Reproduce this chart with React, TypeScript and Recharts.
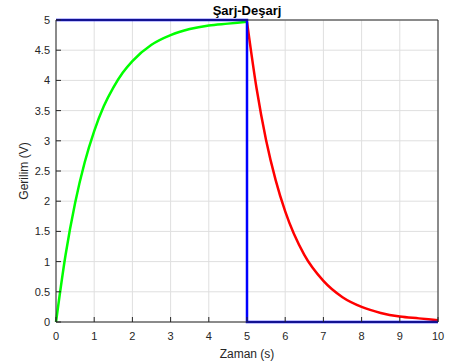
import { LineChart, Line, XAxis, YAxis, CartesianGrid } from 'recharts';

// charge curve (green)
const chargeTime = [0, 0.25, 0.5, 0.75, 1, 1.25, 1.5, 1.75, 2, 2.5, 3, 3.5, 4, 4.5, 5];
const chargeVolt = [0, 1.11, 1.97, 2.64, 3.16, 3.57, 3.88, 4.13, 4.32, 4.59, 4.75, 4.85, 4.91, 4.94, 4.97];

// discharge curve (red)
const dischargeTime = [5, 5.25, 5.5, 5.75, 6, 6.5, 7, 7.5, 8, 8.5, 9, 9.5, 10];
const dischargeVolt = [4.97, 3.87, 3.01, 2.35, 1.83, 1.11, 0.68, 0.41, 0.25, 0.15, 0.09, 0.06, 0.03];

// source voltage (blue)
const sourceTime = [0, 5, 5, 10];
const sourceVolt = [5, 5, 0, 0];

const xTicks = [0, 1, 2, 3, 4, 5, 6, 7, 8, 9, 10];
const yTicks = [0, 0.5, 1, 1.5, 2, 2.5, 3, 3.5, 4, 4.5, 5];

const charge = chargeTime.map((t, i) => ({ t, v: chargeVolt[i] }));
const discharge = dischargeTime.map((t, i) => ({ t, v: dischargeVolt[i] }));
const source = sourceTime.map((t, i) => ({ t, v: sourceVolt[i] }));

const FONT = '"Liberation Sans", Arial, Helvetica, sans-serif';
const AXIS = '#262626';
const tickStyle = { fontSize: 11, fill: AXIS, fontFamily: FONT };

export default function App() {
  return (
    <div style={{ position: 'absolute', left: 0, top: 0, background: '#fff' }}>
      <LineChart width={456} height={363} margin={{ top: 19, right: 17, bottom: 0, left: 0 }}>
        <CartesianGrid stroke="#dfdfdf" strokeWidth={1} />
        <XAxis
          dataKey="t"
          type="number"
          domain={[0, 10]}
          ticks={xTicks}
          allowDuplicatedCategory={false}
          height={41}
          stroke={AXIS}
          tick={tickStyle}
          tickSize={-5}
          tickMargin={15}
          label={{ value: 'Zaman (s)', position: 'insideBottom', offset: 5, style: { fontSize: 12, fill: AXIS, fontFamily: FONT } }}
        />
        <XAxis
          xAxisId="top"
          orientation="top"
          dataKey="t"
          type="number"
          domain={[0, 10]}
          ticks={xTicks}
          height={1}
          stroke={AXIS}
          tickSize={-5}
          tickFormatter={() => ''}
          label={{ value: 'Şarj-Deşarj', position: 'top', offset: 4, style: { fontSize: 13, fontWeight: 'bold', fill: '#000', fontFamily: FONT } }}
        />
        <YAxis
          type="number"
          domain={[0, 5]}
          ticks={yTicks}
          width={56}
          stroke={AXIS}
          tick={tickStyle}
          tickSize={-5}
          tickMargin={11}
          label={{ value: 'Gerilim (V)', angle: -90, position: 'insideLeft', offset: 24, style: { textAnchor: 'middle', fontSize: 12, fill: AXIS, fontFamily: FONT } }}
        />
        <YAxis
          yAxisId="right"
          orientation="right"
          type="number"
          domain={[0, 5]}
          ticks={yTicks}
          width={1}
          stroke={AXIS}
          tickSize={-5}
          tickFormatter={() => ''}
        />
        <Line data={charge} dataKey="v" type="monotone" stroke="#00ff00" strokeWidth={2.5} dot={false} isAnimationActive={false} />
        <Line data={discharge} dataKey="v" type="monotone" stroke="#ff0000" strokeWidth={2.5} dot={false} isAnimationActive={false} />
        <Line data={source} dataKey="v" type="linear" stroke="#0000ff" strokeWidth={2.5} dot={false} isAnimationActive={false} />
      </LineChart>
    </div>
  );
}
